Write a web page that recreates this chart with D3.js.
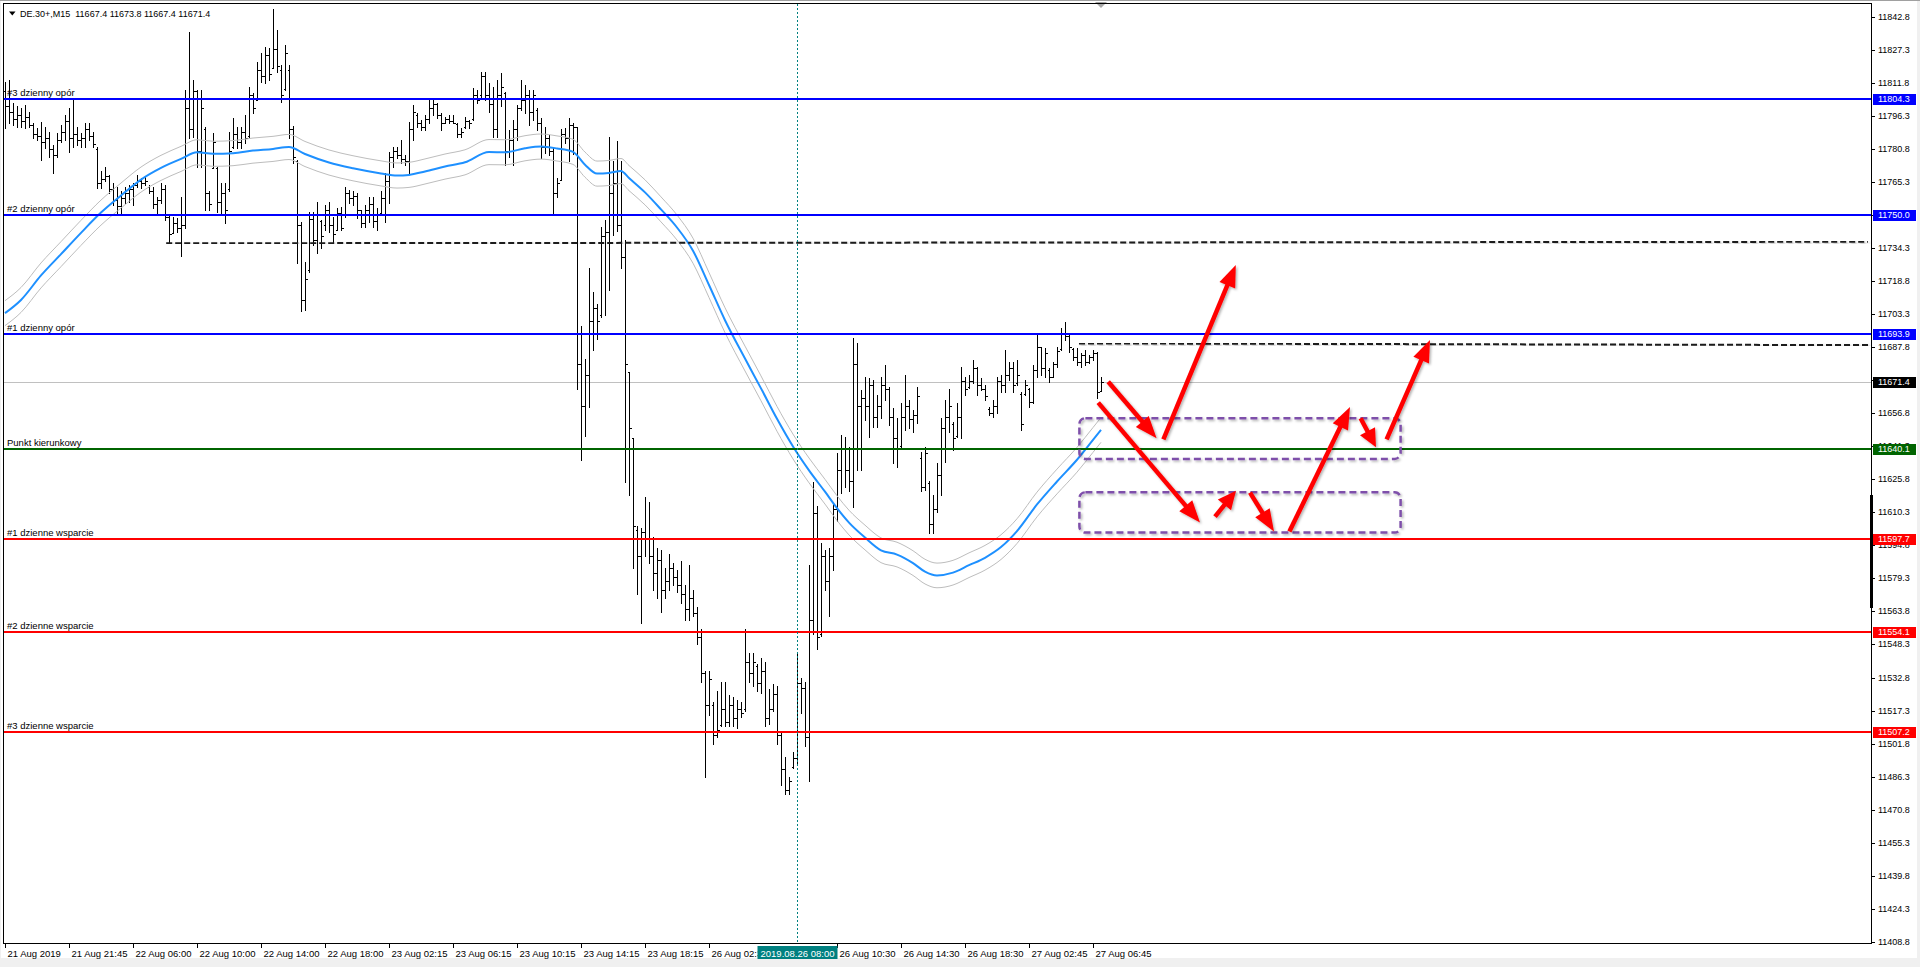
<!DOCTYPE html>
<html><head><meta charset="utf-8">
<script src="https://cdn.jsdelivr.net/npm/d3@7"></script>
<style>
html,body{margin:0;padding:0;background:#fff;overflow:hidden}
svg{display:block;font-family:"Liberation Sans",Arial,sans-serif}
</style></head><body>
<svg id="c" width="1920" height="967"></svg>
<script>
// ---------------- DATA ----------------
const symbolTitle = "DE.30+,M15  11667.4 11673.8 11667.4 11671.4";
const hi = [
11812.5,11813.3,11802.3,11800.8,11800.0,11801.5,11798.4,11792.9,11790.6,11793.7,
11791.4,11789.0,11782.8,11788.2,11792.1,11796.8,11800.0,11804.7,11791.4,11788.2,
11792.9,11792.9,11789.0,11782.0,11770.3,11772.6,11768.7,11764.8,11763.2,11760.9,
11763.2,11764.0,11765.1,11768.7,11767.1,11767.9,11764.0,11763.2,11758.5,11764.8,
11764.0,11749.9,11749.1,11748.4,11758.5,11808.6,11835.9,11813.3,11808.6,11808.6,
11791.4,11760.9,11788.2,11772.6,11764.8,11764.8,11789.0,11795.3,11791.4,11791.4,
11796.8,11810.1,11807.0,11821.9,11825.8,11828.9,11828.1,11846.4,11836.7,11820.3,
11829.7,11820.3,11791.7,11775.7,11746.8,11728.0,11751.5,11751.5,11756.2,11747.6,
11754.6,11756.2,11749.1,11753.1,11753.8,11763.2,11761.7,11760.9,11760.4,11752.3,
11754.6,11758.5,11758.5,11753.1,11760.9,11769.5,11779.6,11782.0,11782.0,11785.1,
11778.1,11793.7,11801.5,11797.6,11794.5,11796.8,11803.9,11803.9,11802.3,11797.6,
11796.1,11796.8,11796.8,11792.9,11790.6,11796.1,11794.5,11809.4,11808.6,11817.2,
11817.2,11811.7,11810.1,11813.3,11816.7,11807.8,11789.8,11794.5,11801.5,11813.3,
11810.9,11808.6,11808.6,11800.0,11795.3,11791.4,11787.4,11782.0,11767.1,11790.0,
11790.9,11795.4,11793.0,11791.0,11698.0,11682.5,11724.8,11713.5,11708.3,11744.4,
11747.5,11786.4,11775.4,11784.7,11775.4,11738.2,11676.3,11645.3,11604.0,11603.0,
11617.4,11615.4,11598.8,11593.7,11592.7,11584.4,11590.6,11586.5,11583.4,11587.5,
11576.1,11585.4,11574.1,11565.8,11555.5,11535.9,11535.9,11521.4,11526.6,11530.7,
11530.7,11524.5,11523.5,11522.4,11521.4,11555.5,11544.1,11544.1,11539.0,11542.0,
11540.0,11527.6,11529.7,11528.6,11507.0,11495.6,11486.3,11497.7,11544.1,11532.8,
11530.7,11585.4,11624.7,11613.3,11595.8,11592.7,11593.7,11614.3,11638.1,11646.6,
11645.9,11641.2,11692.0,11689.7,11667.8,11674.0,11673.2,11672.5,11665.4,11674.0,
11679.5,11669.3,11659.2,11654.5,11661.5,11674.8,11663.1,11658.4,11669.3,11638.8,
11641.2,11624.8,11618.5,11633.4,11654.5,11663.1,11668.1,11652.9,11661.5,11678.7,
11674.0,11674.8,11681.8,11678.7,11673.2,11670.1,11659.9,11663.1,11674.0,11674.8,
11686.5,11681.1,11681.1,11681.8,11667.0,11672.5,11668.6,11679.5,11693.6,11688.1,
11687.3,11677.9,11681.1,11688.1,11696.7,11699.8,11693.6,11687.3,11687.3,11685.0,
11686.5,11684.2,11686.5,11685.8,11673.8];
const lo = [
11790.6,11792.9,11792.1,11791.4,11791.4,11790.6,11791.4,11785.9,11785.1,11775.7,
11781.2,11777.3,11769.5,11777.3,11784.3,11785.1,11779.6,11782.0,11782.8,11782.0,
11782.0,11785.1,11782.0,11762.4,11762.4,11765.6,11760.1,11754.6,11750.7,11750.7,
11755.4,11756.2,11754.6,11763.2,11762.4,11764.0,11760.1,11753.1,11750.7,11755.4,
11747.6,11737.4,11741.3,11742.1,11730.4,11743.7,11785.9,11786.7,11772.6,11772.6,
11752.3,11752.3,11771.8,11751.5,11750.7,11746.0,11760.9,11781.2,11781.2,11781.2,
11783.5,11786.7,11797.6,11803.9,11812.5,11811.7,11813.3,11818.7,11817.2,11803.1,
11808.6,11785.9,11774.2,11727.2,11704.6,11705.3,11723.3,11735.8,11731.9,11734.3,
11742.9,11742.1,11737.4,11742.9,11742.9,11749.1,11755.4,11754.6,11748.4,11744.4,
11744.4,11746.8,11744.4,11742.9,11750.7,11746.8,11755.4,11772.6,11776.5,11774.2,
11773.4,11769.5,11785.1,11791.4,11789.8,11789.8,11792.9,11796.8,11795.3,11789.8,
11792.9,11792.9,11792.9,11786.7,11786.7,11790.6,11790.6,11794.5,11802.3,11805.4,
11803.9,11798.4,11786.7,11786.7,11800.8,11773.4,11777.3,11773.4,11785.1,11799.2,
11797.6,11792.1,11794.5,11789.8,11776.5,11778.9,11778.1,11750.7,11758.5,11766.1,
11783.7,11775.4,11778.5,11668.0,11635.0,11646.3,11659.8,11686.6,11691.8,11702.1,
11703.1,11714.5,11740.3,11742.4,11724.8,11624.7,11618.5,11584.4,11572.0,11558.6,
11589.6,11586.5,11574.1,11569.9,11563.7,11569.9,11574.1,11576.1,11573.0,11567.9,
11559.6,11559.6,11561.7,11548.3,11530.7,11486.3,11515.2,11501.8,11504.9,11510.1,
11510.1,11510.1,11510.1,11509.0,11514.2,11517.3,11530.7,11528.6,11526.6,11525.5,
11510.1,11511.1,11517.3,11501.8,11482.2,11478.0,11478.0,11490.4,11491.5,11516.3,
11500.8,11484.2,11553.4,11546.2,11552.4,11574.1,11561.7,11583.4,11606.1,11619.3,
11622.4,11620.1,11613.0,11630.2,11630.2,11653.7,11645.9,11650.6,11650.6,11654.5,
11663.1,11651.3,11633.4,11631.8,11641.2,11649.0,11649.8,11648.2,11652.1,11620.1,
11620.8,11600.5,11600.5,11610.7,11618.5,11634.1,11648.2,11639.6,11645.9,11645.1,
11665.4,11668.6,11670.9,11665.4,11667.8,11663.1,11656.0,11655.2,11656.8,11667.0,
11667.0,11672.5,11667.0,11670.1,11649.0,11665.4,11659.9,11661.5,11674.0,11674.8,
11674.0,11671.7,11674.0,11678.7,11686.5,11691.2,11685.8,11681.8,11679.5,11678.7,
11679.5,11680.3,11681.8,11663.9,11667.4];
const op = [
11808,11801,11798,11795,11797,11794,11796,11792,11788,11787,
11784,11786,11781,11778,11785,11789,11794,11786,11788,11785,
11786,11790,11787,11781,11765,11767,11768,11762,11757,11754,
11758,11760,11762,11764,11766,11765,11763,11761,11755,11757,
11762,11749,11741.5,11746,11744,11745,11800,11790,11808,11780,
11790,11760,11772,11772,11756,11760,11762,11782,11788,11784,
11789,11787,11806,11804,11818,11815,11825,11819,11828,11818,
11809,11818,11790,11775,11745,11710,11724,11748,11738,11747,
11745,11752,11745,11743,11751,11750,11760,11758,11759,11752,
11746,11752,11755,11747,11751,11758,11766,11777,11780,11778,
11776,11775,11790,11797,11793,11791,11795,11800,11802,11797,
11793,11795,11794,11792.5,11788,11791,11794,11795,11806,11806,
11815,11806,11802,11790,11806,11807,11780,11785,11790,11800,
11804,11806,11798,11799,11793,11782,11786,11780,11760,11766.5,
11788,11786,11792,11791,11680,11660,11675,11700,11706,11703,
11740,11742,11760,11765,11745,11730,11676,11645,11602,11590,
11601,11598,11590,11582,11588,11574,11578,11584,11580,11576,
11572,11565,11570,11563,11552,11535,11520,11520,11506,11510.5,
11518,11512,11520,11514,11518,11518,11540,11535,11538,11530,
11536,11514,11518,11525,11506,11490,11480,11491,11495,11530,
11528,11505,11560,11610,11553,11590,11578,11590,11612,11630,
11640,11630,11625,11680,11660,11664,11660,11670,11655,11660,
11670,11668,11655,11645,11641.5,11655,11660,11654,11656,11636,
11622,11624,11605,11612,11628,11650,11655,11652,11646,11655,
11672,11669,11672,11678,11670,11668,11659,11657,11660,11672,
11670,11675,11678,11671,11666,11666,11668,11662,11677,11688,
11678,11677,11674,11680,11687,11694,11693,11687,11683,11681,
11684,11681,11683,11685,11667.4];
const cl = [
11801,11798,11795,11797,11794,11796,11792,11788,11787,11784,
11786,11781,11778,11785,11789,11794,11786,11788,11785,11786,
11790,11787,11783,11765,11767,11768,11762,11757,11754,11758,
11760,11762,11764,11766,11765,11766,11761,11755,11757,11762,
11749,11741,11746,11744,11745,11800,11790,11808,11780,11800,
11760,11755,11784,11756,11760,11752,11780,11788,11784,11789,
11786,11806,11800,11818,11815,11825,11816,11828,11820,11806,
11826,11790,11777,11745,11710,11720,11748,11738,11750,11740,
11752,11745,11741,11751,11744,11760,11758,11759,11752,11746,
11752,11755,11747,11750,11758,11766,11777,11780,11778,11776,
11775,11790,11798,11793,11791,11795,11800,11802,11797,11793,
11795,11794,11793,11788,11789,11794,11793,11806,11804,11815,
11806,11802,11790,11806,11810,11780,11785,11790,11800,11804,
11806,11798,11806,11793,11782,11786,11780,11760,11765,11788,
11786,11792,11791,11680,11660,11675,11700,11706,11700,11740,
11742,11760,11765,11745,11730,11680,11650,11604,11590,11601,
11598,11590,11582,11588,11574,11578,11584,11580,11576,11572,
11565,11570,11563,11552,11535,11520,11532,11506,11508,11518,
11512,11520,11514,11518,11516,11540,11535,11540,11530,11536,
11514,11518,11525,11506,11490,11480,11484,11495,11530,11528,
11505,11560,11610,11552,11590,11578,11590,11612,11630,11640,
11630,11625,11680,11660,11664,11660,11670,11655,11660,11670,
11668,11655,11645,11640,11655,11660,11654,11656,11665,11622,
11638,11605,11612,11628,11650,11655,11660,11645,11655,11672,
11668,11672,11678,11670,11668,11665,11657,11660,11672,11670,
11675,11678,11670,11675,11652,11670,11662,11677,11688,11678,
11685,11674,11680,11686,11694,11693,11688,11683,11681,11684,
11681,11683,11685,11667,11671.4];

// Moving average (blue) at sample bars; envelopes +/- 0.05%
const maBars = [0,4,9,14,19,24,29,34,39,44,48,52,57,62,67,71,75,81,87,94,98,101,105,110,115,121,125,130,134,138,142,145,148,151,154,156,160,164,168,172,176,180,185,189,193,197,201,205,208,211,215,219,223,227,230,233,237,241,245,249,253,258,263,268,272,274];
const maVals = [11703.8,11710.0,11721.5,11731.5,11741.5,11751.0,11759.0,11766.5,11772.0,11776.2,11779.3,11778.6,11778.9,11780.1,11780.9,11781.8,11778.5,11774.5,11771.8,11769.4,11768.4,11768.7,11770.3,11772.6,11774.6,11779.4,11779.3,11781.2,11782.0,11781.1,11779.5,11773.5,11769.3,11769.6,11770.5,11767.2,11760.5,11752.5,11744.0,11733.1,11717.0,11700.5,11682.5,11668.5,11654.2,11641.2,11630.0,11620.0,11612.3,11605.5,11598.5,11592.5,11590.5,11586.5,11582.5,11580.7,11582.0,11585.5,11589.0,11594.0,11601.5,11614.0,11624.8,11635.0,11644.3,11649.0];
const envelopePct = 0.05;

// Horizontal levels
const levelValues = [11804.3, 11750.0, 11693.9, 11640.1, 11597.7, 11554.1, 11507.2];
const levelNames  = ["#3 dzienny opór","#2 dzienny opór","#1 dzienny opór","Punkt kierunkowy","#1 dzienne wsparcie","#2 dzienne wsparcie","#3 dzienne wsparcie"];
const levelKinds  = ["R","R","R","P","S","S","S"];
const bidPrice = 11671.4;

// Dashed trend lines [bar1, price1, bar2, price2]
const trendLines = [[40.3, 11736.6, 465.75, 11737.3],[268.5, 11689.6, 465.75, 11688.8]];
// Scenario boxes [bar1, priceTop, bar2, priceBottom]
const zones = [[268.6, 11654.5, 348.9, 11635.4],[268.6, 11619.7, 348.9, 11600.8]];
// Scenario arrows [barFrom, priceFrom, barTo, priceTo]
const arrows = [
 [275.8,11671.6,287.9,11645.1],
 [289.6,11644.6,307.7,11726.4],
 [273.3,11661.8,298.75,11605.5],
 [302.5,11608.3,307.75,11620.5],
 [311.25,11619.6,317.25,11601.3],
 [321.1,11601.3,336.25,11659.7],
 [338.9,11654.5,342.75,11640.9],
 [345.4,11644.6,356.25,11691.2]];

// Axes
const priceTicks = [11842.8,11827.3,11811.8,11796.3,11780.8,11765.3,11749.8,11734.3,11718.8,11703.3,11687.8,11672.3,11656.8,11641.3,11625.8,11610.3,11594.8,11579.3,11563.8,11548.3,11532.8,11517.3,11501.8,11486.3,11470.8,11455.3,11439.8,11424.3,11408.8];
const timeBars = [0,16,32,48,64,80,96,112,128,144,160,176,208,224,240,256,272];
const timeLabels = ["21 Aug 2019","21 Aug 21:45","22 Aug 06:00","22 Aug 10:00","22 Aug 14:00","22 Aug 18:00","23 Aug 02:15","23 Aug 06:15","23 Aug 10:15","23 Aug 14:15","23 Aug 18:15","26 Aug 02:30","26 Aug 10:30","26 Aug 14:30","26 Aug 18:30","27 Aug 02:45","27 Aug 06:45"];
const cursorBar = 198;
const cursorLabel = "2019.08.26 08:00";

// ---------------- DRAW ----------------
const svg = d3.select("#c");
const plotL = 4, plotT = 4, plotR = 1872, plotB = 944;
const x = d3.scaleLinear().domain([0, 465.75]).range([5, 1868]);
const y = d3.scaleLinear().domain([11408.8, 11842.8]).range([941.7, 17]);
const kindColor = {R:"#0000FF", P:"#006400", S:"#FF0000"};

const defs = svg.append("defs");
const f = defs.append("filter").attr("id","sh").attr("x","-20%").attr("y","-20%").attr("width","140%").attr("height","140%");
f.append("feDropShadow").attr("dx",1.5).attr("dy",1.5).attr("stdDeviation",1.2).attr("flood-color","#000").attr("flood-opacity",0.3);
defs.append("clipPath").attr("id","plotclip").append("rect").attr("x",plotL).attr("y",plotT).attr("width",plotR-plotL).attr("height",plotB-plotT);

// window background
svg.append("rect").attr("width",1920).attr("height",967).attr("fill","#F0F0F0");
svg.append("rect").attr("x",1).attr("y",1).attr("width",1916).attr("height",957).attr("fill","#FFFFFF");
svg.append("line").attr("x1",0).attr("x2",1920).attr("y1",0.5).attr("y2",0.5).attr("stroke","#A0A0A0");

const g = svg.append("g").attr("clip-path","url(#plotclip)");

// bid line
g.append("line").attr("x1",plotL).attr("x2",plotR).attr("y1",Math.round(y(bidPrice))+0.5).attr("y2",Math.round(y(bidPrice))+0.5)
  .attr("stroke","#C0C0C0").attr("stroke-width",1);

// bars
const idx = d3.range(hi.length);
const bars = g.append("g").attr("stroke","#000").attr("stroke-width",1).attr("shape-rendering","crispEdges");
idx.forEach(i => {
  const cx = Math.round(x(i)) + 0.5;
  bars.append("line").attr("x1",cx).attr("x2",cx).attr("y1",Math.round(y(hi[i]))).attr("y2",Math.round(y(lo[i]))+1);
  const yo = Math.round(y(op[i]))+0.5, yc = Math.round(y(cl[i]))+0.5;
  bars.append("line").attr("x1",cx-2).attr("x2",cx).attr("y1",yo).attr("y2",yo);
  bars.append("line").attr("x1",cx).attr("x2",cx+2).attr("y1",yc).attr("y2",yc);
});

// MA with envelopes
const maPts = maBars.map((b,k)=>[b, maVals[k]]);
const lineGen = d3.line().x(d=>x(d[0])).y(d=>y(d[1])).curve(d3.curveMonotoneX);
[1+envelopePct/100, 1-envelopePct/100].forEach(m => {
  g.append("path").attr("d", lineGen(maPts.map(d=>[d[0], d[1]*m]))).attr("fill","none").attr("stroke","#BDBDBD").attr("stroke-width",1);
});
g.append("path").attr("d", lineGen(maPts)).attr("fill","none").attr("stroke","#1E90FF").attr("stroke-width",2);

// levels
levelValues.forEach((v,k) => {
  const yy = Math.round(y(v));
  g.append("rect").attr("x",plotL).attr("y",yy-1).attr("width",plotR-plotL).attr("height",2).attr("fill",kindColor[levelKinds[k]]);
});

// trend dashed lines
trendLines.forEach(t => {
  g.append("line").attr("x1",x(t[0])).attr("y1",y(t[1])).attr("x2",x(t[2])).attr("y2",y(t[3]))
   .attr("stroke","#1a1a1a").attr("stroke-width",2).attr("stroke-dasharray","6,3").attr("filter","url(#sh)");
});

// cursor vertical line
g.append("line").attr("x1",x(cursorBar)+0.5).attr("x2",x(cursorBar)+0.5).attr("y1",plotT).attr("y2",plotB)
  .attr("stroke","#008080").attr("stroke-width",1).attr("stroke-dasharray","2,2");

// level labels
levelValues.forEach((v,k) => {
  g.append("text").attr("x",7).attr("y",Math.round(y(v))-3).attr("font-size","9.5px").attr("fill","#000").text(levelNames[k]);
});

// zones
zones.forEach(z => {
  g.append("rect").attr("x",x(z[0])).attr("y",y(z[1])).attr("width",x(z[2])-x(z[0])).attr("height",y(z[3])-y(z[1]))
   .attr("rx",6).attr("ry",6).attr("fill","none").attr("stroke","#7E4FAA").attr("stroke-width",2.5)
   .attr("stroke-dasharray","7,4").attr("filter","url(#sh)");
});

// arrows
const arrG = g.append("g").attr("filter","url(#sh)");
arrows.forEach(a => {
  const x1=x(a[0]), y1=y(a[1]), x2=x(a[2]), y2=y(a[3]);
  const dx=x2-x1, dy=y2-y1, len=Math.hypot(dx,dy);
  const ux=dx/len, uy=dy/len, px=-uy, py=ux;
  const hl = Math.min(22, len*0.55), hw = 8.5;
  const bx = x2-ux*hl, by = y2-uy*hl;
  arrG.append("line").attr("x1",x1).attr("y1",y1).attr("x2",bx+ux*2).attr("y2",by+uy*2)
    .attr("stroke","#FF0000").attr("stroke-width",4.5);
  arrG.append("polygon").attr("points",[[x2,y2],[bx+px*hw,by+py*hw],[bx-px*hw,by-py*hw]].map(p=>p.join(",")).join(" "))
    .attr("fill","#FF0000");
});

// shift marker triangle
svg.append("polygon").attr("points",[[x(hi.length-1)-6,2],[x(hi.length-1)+6,2],[x(hi.length-1),8]].map(p=>p.join(",")).join(" ")).attr("fill","#A8A8A8");

// frame
svg.append("rect").attr("x",plotL-0.5).attr("y",plotT-0.5).attr("width",plotR-plotL).attr("height",plotB-plotT)
  .attr("fill","none").attr("stroke","#000").attr("stroke-width",1).attr("shape-rendering","crispEdges");

// right price axis
const ax = svg.append("g").attr("font-size","9px").attr("fill","#000");
priceTicks.forEach(p => {
  const yy = Math.round(y(p));
  ax.append("line").attr("x1",plotR).attr("x2",plotR+3).attr("y1",yy+0.5).attr("y2",yy+0.5).attr("stroke","#000").attr("shape-rendering","crispEdges");
  ax.append("text").attr("x",plotR+6).attr("y",yy+3.3).text(p.toFixed(1));
});
// black marker on axis
svg.append("rect").attr("x",plotR-2).attr("y",495).attr("width",3).attr("height",113).attr("fill","#000");

function priceBox(v, col){
  const yy = Math.round(y(v));
  svg.append("rect").attr("x",plotR+1).attr("y",yy-5).attr("width",43).attr("height",11).attr("fill",col);
  svg.append("text").attr("x",plotR+6).attr("y",yy+3.3).attr("font-size","9px").attr("fill","#fff").text(v.toFixed(1));
}
levelValues.forEach((v,k)=>priceBox(v, kindColor[levelKinds[k]]));
priceBox(bidPrice, "#000");

// time axis
timeBars.forEach((b,k) => {
  const xx = Math.round(x(b))+0.5;
  svg.append("line").attr("x1",xx).attr("x2",xx).attr("y1",plotB).attr("y2",plotB+4).attr("stroke","#000").attr("shape-rendering","crispEdges");
  svg.append("text").attr("x",xx+2).attr("y",956.5).attr("font-size","9.5px").attr("fill","#000").text(timeLabels[k]);
});
const cx0 = x(cursorBar)+0.5;
svg.append("rect").attr("x",cx0-40).attr("y",946).attr("width",80).attr("height",13).attr("fill","#008080");
svg.append("text").attr("x",cx0).attr("y",956.5).attr("text-anchor","middle").attr("font-size","9.5px").attr("fill","#fff").text(cursorLabel);

// header
svg.append("polygon").attr("points","9,11.5 15.5,11.5 12.25,15.5").attr("fill","#000");
svg.append("text").attr("x",20).attr("y",17).attr("font-size","9px").attr("fill","#000").style("white-space","pre").text(symbolTitle);
</script>
</body></html>
